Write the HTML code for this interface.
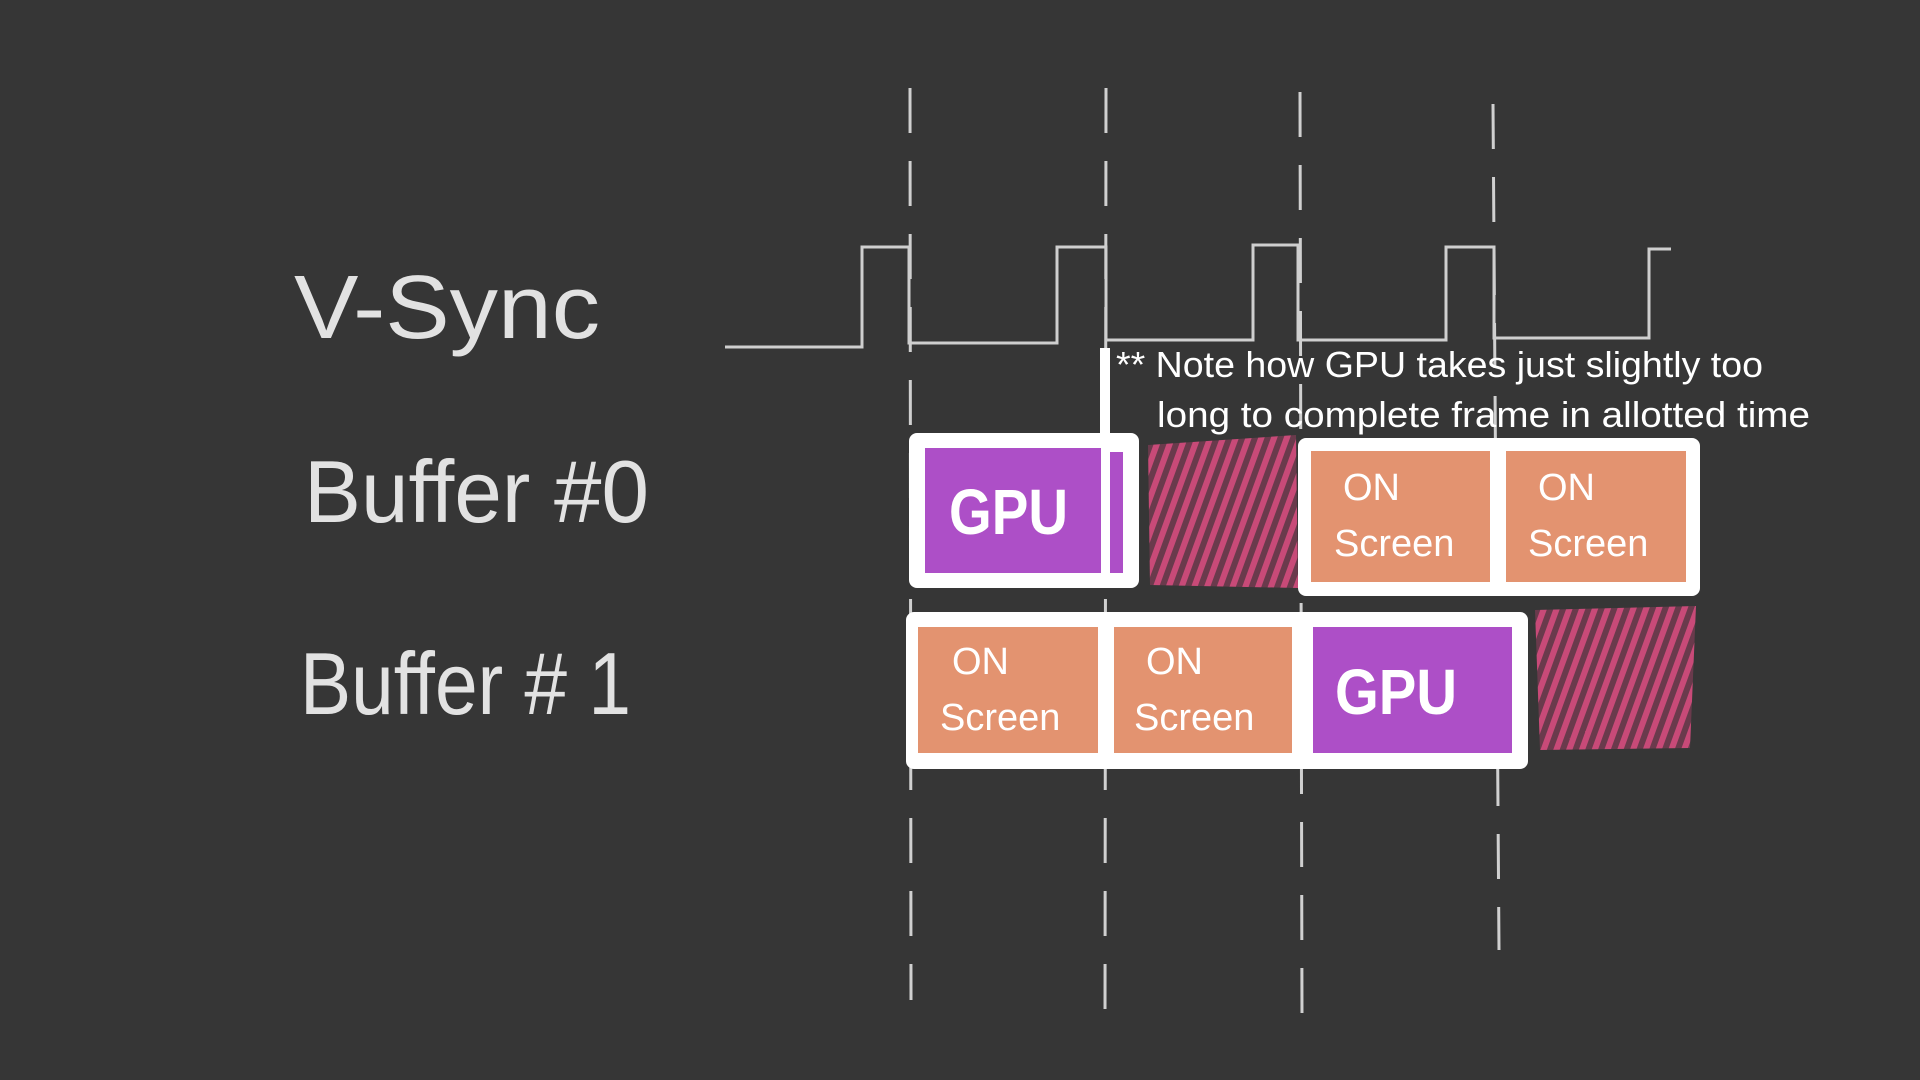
<!DOCTYPE html>
<html><head><meta charset="utf-8"><style>
html,body{margin:0;padding:0;background:#363636;}
svg{display:block}
</style></head><body>
<svg width="1920" height="1080" viewBox="0 0 1920 1080" xmlns="http://www.w3.org/2000/svg">
<defs>
<pattern id="hatch" width="12" height="12" patternUnits="userSpaceOnUse" patternTransform="rotate(20)">
<rect width="12" height="12" fill="#6a3a4c"/>
<rect width="6" height="12" fill="#c84a78"/>
</pattern>
</defs>
<rect width="1920" height="1080" fill="#363636"/>
<g stroke="#d0d0d0" stroke-width="3" stroke-dasharray="45 28" fill="none">
<line x1="910" y1="88" x2="911" y2="1000"/>
<line x1="1106" y1="88" x2="1105" y2="1020"/>
<line x1="1300" y1="92" x2="1302" y2="1020"/>
<line x1="1493" y1="104" x2="1499" y2="950"/>
</g>
<polyline fill="none" stroke="#cfcfcf" stroke-width="3" points="725,347 862,347 862,247 909,247 909,343 1057,343 1057,247 1106,247 1106,340 1253,340 1253,245 1298,245 1298,340 1446,340 1446,247 1494,247 1494,338 1649,338 1649,249 1671,249"/>
<g font-family="Liberation Sans,sans-serif" fill="#e2e2e2">
<text x="294" y="338" font-size="90" textLength="306" lengthAdjust="spacingAndGlyphs">V-Sync</text>
<text x="304" y="522" font-size="88" textLength="345" lengthAdjust="spacingAndGlyphs">Buffer #0</text>
<text x="300" y="714" font-size="88" textLength="331" lengthAdjust="spacingAndGlyphs">Buffer # 1</text>
</g>
<polygon points="1148,445 1296,435 1298,588 1150,585" fill="url(#hatch)"/>
<polygon points="1535,610 1696,606 1690,748 1540,750" fill="url(#hatch)"/>
<rect x="909" y="433" width="230" height="155" rx="8" fill="#fff"/>
<rect x="925" y="448" width="176" height="125" fill="#ad4fc7"/>
<rect x="1110" y="452" width="13" height="121" fill="#ad4fc7"/>
<rect x="1100" y="348" width="10" height="90" fill="#fff"/>
<rect x="1298" y="438" width="402" height="158" rx="8" fill="#fff"/>
<rect x="1311" y="451" width="179" height="131" fill="#e39370"/>
<rect x="1506" y="451" width="180" height="131" fill="#e39370"/>
<rect x="906" y="612" width="622" height="157" rx="8" fill="#fff"/>
<rect x="918" y="627" width="180" height="126" fill="#e39370"/>
<rect x="1114" y="627" width="178" height="126" fill="#e39370"/>
<rect x="1313" y="627" width="199" height="126" fill="#ad4fc7"/>
<g font-family="Liberation Sans,sans-serif" fill="#fff">
<text x="949" y="534" font-size="64" font-weight="bold" textLength="119" lengthAdjust="spacingAndGlyphs">GPU</text>
<text x="1335" y="714" font-size="64" font-weight="bold" textLength="122" lengthAdjust="spacingAndGlyphs">GPU</text>
<g font-size="38">
<text x="1343" y="500">ON</text><text x="1334" y="556">Screen</text>
<text x="1538" y="500">ON</text><text x="1528" y="556">Screen</text>
<text x="952" y="674">ON</text><text x="940" y="730">Screen</text>
<text x="1146" y="674">ON</text><text x="1134" y="730">Screen</text>
</g>
</g>
<g font-family="Liberation Sans,sans-serif" fill="#fff" font-size="36">
<text x="1116" y="377" textLength="647" lengthAdjust="spacingAndGlyphs">** Note how GPU takes just slightly too</text>
<text x="1157" y="427" textLength="653" lengthAdjust="spacingAndGlyphs">long to complete frame in allotted time</text>
</g>
</svg>
</body></html>
